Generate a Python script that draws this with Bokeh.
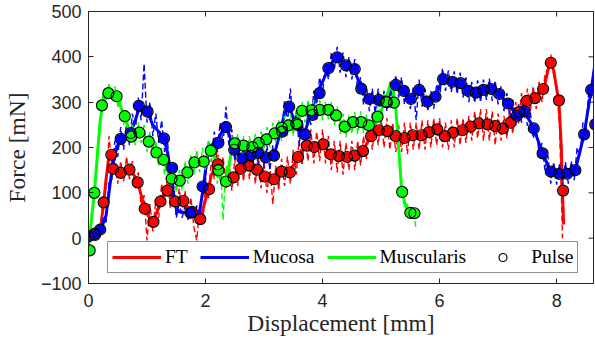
import numpy as np
from bokeh.plotting import figure
from bokeh.models import Range1d, Legend, LegendItem, FixedTicker
from bokeh.embed import file_html
from bokeh.resources import INLINE

# ---------------- data ----------------
x_ticks = [0, 2, 4, 6, 8]
y_ticks = [-100, 0, 100, 200, 300, 400, 500]
x_limits = (0, 8.63)
y_limits = (-100, 500)
x_title = "Displacement [mm]"
y_title = "Force [mN]"
series_names = ["FT", "Mucosa", "Muscularis"]
colors = ["#FF0000", "#0000FF", "#00FF00"]
raw_step = 0.05  # sampling step of the raw traces [mm]

# raw (dashed) traces, sampled every 0.05 mm starting at 0
ft_raw = [-5, 8, 0, 15, 10, 90, 110, 225, 160, 185,
          120, 170, 125, 180, 130, 170, 110, 145, 70, 95,
          -5, 75, 15, 85, 45, 120, 75, 135, 65, 115,
          50, 110, 55, 105, 40, 90, 25, -5, 70, 35,
          115, 85, 175, 130, 200, 125, 180, 110, 170, 105,
          175, 115, 185, 125, 195, 130, 185, 120, 180, 110,
          165, 100, 160, 75, 160, 105, 175, 115, 180, 120,
          195, 140, 215, 160, 235, 170, 240, 165, 235, 170,
          240, 165, 225, 150, 215, 145, 215, 140, 210, 150,
          215, 150, 215, 160, 225, 175, 255, 195, 260, 205,
          265, 200, 265, 195, 255, 190, 250, 190, 255, 185,
          255, 195, 255, 195, 260, 195, 260, 200, 265, 205,
          265, 200, 255, 195, 260, 200, 265, 205, 265, 210,
          270, 215, 280, 220, 285, 215, 285, 215, 280, 205,
          275, 215, 270, 220, 285, 230, 300, 250, 320, 265,
          330, 280, 335, 285, 345, 300, 360, 375, 405, 360,
          330, 250, 0]
mucosa_raw = [-3, 8, 0, 18, 8, 45, 35, 125, 130, 215,
              180, 245, 195, 255, 205, 275, 235, 310, 260, 385,
              255, 300, 225, 275, 210, 260, 190, 215, 120, 125,
              45, 75, 45, 70, 40, 70, 42, 72, 45, 125,
              125, 215, 180, 235, 190, 255, 210, 290, 205, 240,
              170, 215, 155, 205, 150, 205, 155, 210, 160, 210,
              155, 205, 150, 205, 170, 250, 225, 305, 255, 330,
              240, 280, 205, 260, 210, 285, 250, 325, 295, 355,
              320, 385, 350, 410, 370, 422, 365, 410, 355, 400,
              350, 395, 325, 355, 295, 335, 280, 330, 275, 330,
              270, 325, 280, 345, 305, 360, 310, 355, 295, 335,
              285, 335, 260, 350, 290, 330, 280, 325, 285, 340,
              310, 375, 325, 370, 322, 368, 318, 365, 310, 355,
              300, 345, 298, 348, 300, 350, 305, 352, 303, 348,
              295, 335, 280, 320, 265, 305, 248, 295, 255, 300,
              248, 278, 220, 245, 185, 210, 150, 182, 120, 168,
              118, 165, 115, 168, 120, 170, 128, 200, 180, 255,
              240, 325, 310, 400]
muscularis_raw = [-30, 55, 90, 200, 250, 320, 305, 340, 310, 335,
                  290, 305, 250, 285, 215, 250, 205, 255, 210, 250,
                  190, 235, 175, 215, 160, 200, 140, 175, 95, 160,
                  100, 150, 105, 170, 120, 185, 140, 195, 145, 200,
                  150, 215, 170, 205, 120, 175, 40, 160, 120, 225,
                  185, 230, 180, 225, 180, 225, 175, 230, 185, 235,
                  190, 245, 200, 255, 210, 260, 215, 270, 225, 275,
                  225, 285, 240, 300, 255, 305, 260, 305, 258, 305,
                  260, 300, 262, 300, 250, 290, 230, 275, 222, 272,
                  230, 278, 230, 280, 232, 272, 225, 278, 240, 295,
                  255, 320, 295, 345, 315, 300, 190, 125, 70, 75,
                  40, 60, 20]

# smoothed (solid) traces: (displacement mm, force mN)
ft_smooth = [(0, 0), (0.1, 5), (0.2, 15), (0.26, 79), (0.3, 130), (0.35, 180), (0.39, 184),
             (0.42, 160), (0.5, 145), (0.55, 144), (0.6, 148), (0.7, 151), (0.8, 135), (0.84, 123),
             (0.9, 95), (0.96, 65), (1.05, 42), (1.11, 36), (1.2, 70), (1.3, 100), (1.35, 105),
             (1.4, 95), (1.5, 80), (1.6, 80), (1.7, 68), (1.8, 52), (1.9, 42), (1.95, 60), (2.0, 85),
             (2.05, 108), (2.1, 140), (2.2, 162), (2.3, 150), (2.4, 138), (2.5, 140), (2.6, 153),
             (2.7, 159), (2.8, 157), (2.9, 150), (3.0, 137), (3.1, 131), (3.2, 132), (3.3, 147),
             (3.4, 146), (3.5, 160), (3.6, 182), (3.7, 202), (3.8, 203), (3.9, 203), (4.0, 207),
             (4.1, 192), (4.2, 183), (4.3, 181), (4.4, 179), (4.5, 181), (4.6, 185), (4.7, 195),
             (4.8, 220), (4.9, 235), (5.0, 238), (5.1, 236), (5.2, 228), (5.3, 223), (5.4, 221),
             (5.5, 225), (5.6, 227), (5.7, 228), (5.8, 233), (5.9, 238), (6.0, 238), (6.1, 226),
             (6.2, 232), (6.3, 235), (6.4, 238), (6.5, 244), (6.6, 250), (6.7, 253), (6.8, 251),
             (6.9, 249), (7.0, 245), (7.1, 243), (7.2, 253), (7.3, 268), (7.4, 290), (7.5, 304),
             (7.6, 308), (7.7, 318), (7.8, 340), (7.85, 370), (7.9, 390), (7.95, 370), (8.0, 330),
             (8.04, 300), (8.08, 200), (8.1, 100), (8.12, 30)]
mucosa_smooth = [(0, 0), (0.1, 5), (0.2, 15), (0.3, 50), (0.35, 100), (0.4, 150), (0.45, 185),
                 (0.5, 205), (0.55, 215), (0.6, 222), (0.7, 230), (0.8, 260), (0.86, 285), (0.95, 290),
                 (1.0, 285), (1.05, 265), (1.1, 250), (1.2, 235), (1.29, 218), (1.35, 190), (1.4, 150),
                 (1.45, 100), (1.5, 65), (1.55, 58), (1.7, 56), (1.8, 55), (1.9, 60), (1.95, 100),
                 (2.0, 150), (2.05, 190), (2.1, 205), (2.2, 215), (2.3, 240), (2.35, 245), (2.4, 230),
                 (2.5, 195), (2.6, 180), (2.7, 175), (2.8, 180), (2.9, 185), (3.0, 180), (3.1, 175),
                 (3.17, 182), (3.25, 220), (3.35, 275), (3.43, 290), (3.5, 265), (3.6, 235), (3.7, 235),
                 (3.8, 275), (3.9, 320), (4.0, 345), (4.1, 375), (4.2, 395), (4.27, 400), (4.35, 385),
                 (4.45, 378), (4.55, 370), (4.66, 330), (4.75, 310), (4.9, 305), (5.0, 300), (5.1, 305),
                 (5.2, 330), (5.25, 338), (5.35, 330), (5.45, 310), (5.55, 312), (5.65, 327), (5.75, 305),
                 (5.85, 302), (5.93, 312), (6.0, 335), (6.06, 350), (6.25, 345), (6.36, 341), (6.5, 325),
                 (6.62, 321), (6.75, 327), (6.88, 329), (7.02, 318), (7.17, 297), (7.32, 270), (7.45, 280),
                 (7.61, 242), (7.76, 187), (7.9, 147), (8.04, 142), (8.18, 142), (8.32, 150), (8.47, 229),
                 (8.59, 327), (8.65, 380)]
muscularis_smooth = [(0.0, -22), (0.05, 40), (0.1, 100), (0.15, 180), (0.2, 260), (0.25, 300),
                     (0.3, 320), (0.35, 330), (0.4, 325), (0.45, 315), (0.5, 305), (0.55, 290),
                     (0.6, 272), (0.65, 255), (0.7, 235), (0.75, 225), (0.8, 228), (0.9, 232),
                     (0.95, 225), (1.0, 215), (1.1, 200), (1.2, 182), (1.3, 165), (1.35, 150),
                     (1.4, 135), (1.5, 125), (1.6, 133), (1.7, 148), (1.8, 165), (1.9, 170),
                     (1.95, 170), (2.0, 178), (2.1, 193), (2.15, 180), (2.2, 155), (2.3, 125),
                     (2.35, 130), (2.4, 160), (2.45, 195), (2.5, 208), (2.7, 202), (2.8, 202),
                     (3.0, 215), (3.2, 233), (3.4, 248), (3.5, 252), (3.6, 268), (3.7, 280),
                     (3.9, 283), (4.1, 283), (4.2, 275), (4.3, 258), (4.4, 247), (4.6, 256),
                     (4.8, 250), (4.9, 260), (5.0, 280), (5.1, 315), (5.15, 335), (5.2, 330),
                     (5.25, 290), (5.3, 200), (5.35, 110), (5.4, 80), (5.45, 62), (5.5, 56), (5.57, 55)]

# pulse markers: (displacement mm, force mN)
ft_pulse = [(0.11, 10), (0.26, 79), (0.39, 184), (0.42, 153), (0.55, 144), (0.70, 151), (0.84, 123),
            (0.96, 65), (1.11, 36), (1.23, 81), (1.35, 105), (1.48, 81), (1.62, 82), (1.77, 58),
            (1.91, 42), (2.06, 108), (2.21, 163), (2.48, 134), (2.60, 153), (2.74, 160), (2.88, 151),
            (3.01, 136), (3.17, 130), (3.30, 147), (3.44, 145), (3.58, 179), (3.73, 204), (3.86, 201),
            (4.01, 207), (4.14, 185), (4.28, 181), (4.42, 179), (4.55, 182), (4.69, 192), (4.83, 225),
            (4.96, 238), (5.11, 236), (5.25, 225), (5.40, 221), (5.54, 227), (5.69, 227), (5.82, 234),
            (5.96, 240), (6.09, 225), (6.23, 233), (6.39, 238), (6.53, 246), (6.67, 253), (6.82, 251),
            (6.95, 247), (7.08, 242), (7.21, 255), (7.36, 278), (7.49, 303), (7.63, 309), (7.77, 329),
            (7.90, 387), (8.04, 304), (8.11, 105)]
mucosa_pulse = [(0.0, 4), (0.11, 7), (0.20, 19), (0.55, 219), (0.72, 232), (0.86, 292), (1.01, 279),
                (1.29, 220), (1.43, 155), (1.74, 56), (1.95, 114), (2.22, 210), (2.35, 245), (2.49, 195),
                (2.63, 176), (2.77, 182), (2.90, 188), (3.03, 178), (3.17, 182), (3.31, 235), (3.43, 290),
                (3.57, 250), (3.70, 229), (3.83, 272), (3.95, 320), (4.10, 375), (4.25, 399), (4.40, 381),
                (4.55, 373), (4.66, 330), (4.80, 307), (4.96, 305), (5.10, 300), (5.25, 338), (5.39, 325),
                (5.51, 307), (5.65, 327), (5.79, 301), (5.93, 312), (6.06, 351), (6.22, 345), (6.36, 342),
                (6.49, 325), (6.62, 321), (6.75, 327), (6.88, 329), (7.02, 318), (7.17, 297), (7.32, 270),
                (7.45, 280), (7.61, 242), (7.76, 187), (7.90, 147), (8.04, 142), (8.18, 142), (8.32, 150),
                (8.47, 229), (8.59, 327), (8.66, 251)]
muscularis_pulse = [(0.02, -27), (0.10, 100), (0.23, 293), (0.34, 320), (0.48, 313), (0.62, 269),
                    (0.73, 224), (0.87, 233), (1.03, 213), (1.16, 189), (1.28, 173), (1.42, 131),
                    (1.56, 127), (1.69, 145), (1.81, 167), (1.97, 169), (2.09, 193), (2.22, 150),
                    (2.35, 125), (2.50, 209), (2.65, 204), (2.80, 201), (2.91, 210), (3.04, 218),
                    (3.18, 231), (3.30, 244), (3.42, 249), (3.55, 253), (3.65, 281), (3.81, 282),
                    (3.95, 283), (4.10, 283), (4.23, 271), (4.38, 246), (4.52, 256), (4.66, 256),
                    (4.79, 249), (4.94, 268), (5.08, 301), (5.22, 299), (5.36, 102), (5.50, 56),
                    (5.57, 55)]


def split(pairs):
    xs, ys = zip(*pairs)
    return list(xs), list(ys)


def raw_x(ys):
    return [round(i * raw_step, 2) for i in range(len(ys))]


# ---------------- figure ----------------
AX = "#262626"
TICK_FONT = "Liberation Sans"
SERIF = "Liberation Serif"

# Bokeh's standalone page has no body margin, so the canvas fills the 595x341 window
p = figure(width=595, height=341, output_backend="svg", toolbar_location=None,
           x_range=Range1d(*x_limits), y_range=Range1d(*y_limits),
           min_border_left=88, min_border_right=2, min_border_top=11, min_border_bottom=58)
p.grid.visible = False
p.outline_line_color = AX
p.outline_line_width = 1
p.background_fill_color = "white"
p.border_fill_color = "white"

p.xaxis.ticker = FixedTicker(ticks=x_ticks)
p.yaxis.ticker = FixedTicker(ticks=y_ticks)
for ax in (p.xaxis[0], p.yaxis[0]):
    ax.major_tick_in = 5
    ax.major_tick_out = 0
    ax.minor_tick_line_color = None
    ax.axis_line_color = AX
    ax.major_tick_line_color = AX
    ax.major_label_text_color = AX
    ax.major_label_text_font = TICK_FONT
    ax.major_label_text_font_size = "18px"
    ax.axis_label_text_font = SERIF
    ax.axis_label_text_font_style = "normal"
    ax.axis_label_text_font_size = "23.5px"
    ax.axis_label_text_color = AX
p.xaxis.axis_label = x_title
p.yaxis.axis_label = y_title
p.xaxis.major_label_standoff = 10
p.xaxis.axis_label_standoff = 0
p.yaxis.major_label_standoff = 7
p.yaxis.axis_label_standoff = 8

# inward ticks on the top and right frame edges (half of each dash is clipped by the frame)
p.scatter([x_limits[1]] * len(y_ticks), y_ticks, marker="dash", size=10,
          line_color=AX, line_width=1)
p.scatter(x_ticks, [y_limits[1]] * len(x_ticks), marker="dash", angle=np.pi / 2, size=10,
          line_color=AX, line_width=1)

raws = [ft_raw, mucosa_raw, muscularis_raw]
smooths = [ft_smooth, mucosa_smooth, muscularis_smooth]
pulses = [ft_pulse, mucosa_pulse, muscularis_pulse]

smooth_renderers = []
for raw, sm, c in zip(raws, smooths, colors):
    p.line(raw_x(raw), raw, line_color=c, line_width=1.4, line_dash="6 3")
    sx, sy = split(sm)
    smooth_renderers.append(p.line(sx, sy, line_color=c, line_width=3))

all_px, all_py = [], []
for pu, c in zip(pulses, colors):
    px, py = split(pu)
    p.scatter(px, py, size=10, fill_color=c, line_color=None)
    all_px += px
    all_py += py
pulse_r = p.scatter(all_px, all_py, size=11, fill_color=None, line_color="black", line_width=1.2)

items = [LegendItem(label=n, renderers=[r]) for n, r in zip(series_names, smooth_renderers)]
items.append(LegendItem(label="Pulse", renderers=[pulse_r]))
legend = Legend(items=items, location=(19, 10), orientation="horizontal",
                label_text_font=SERIF, label_text_font_size="19.5px", label_text_color="black",
                glyph_width=49, glyph_height=20, label_height=20, label_standoff=4,
                spacing=12, padding=4, margin=0,
                border_line_color=AX, border_line_width=1,
                background_fill_color="white", background_fill_alpha=1)
p.add_layout(legend)

open("out.html", "w").write(file_html(p, INLINE))
